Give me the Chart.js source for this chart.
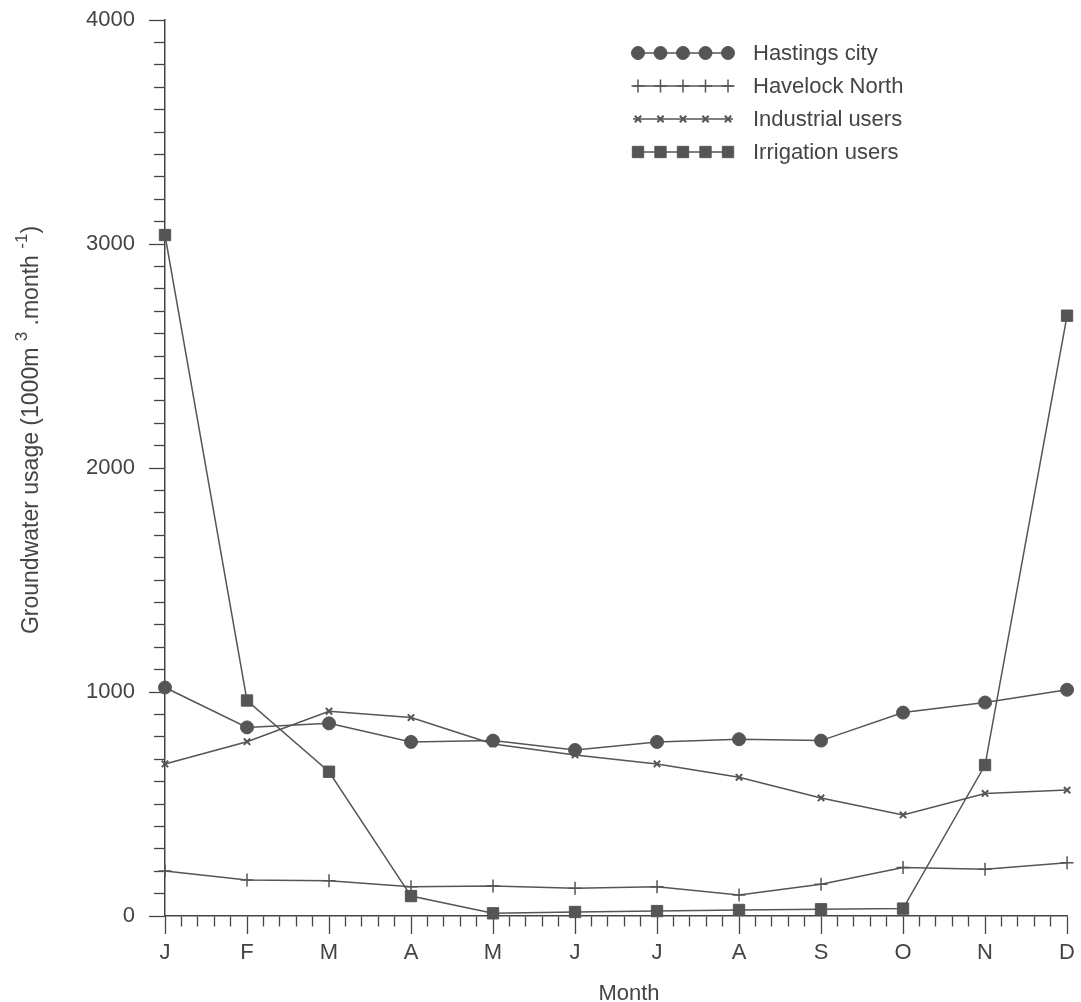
<!DOCTYPE html>
<html>
<head>
<meta charset="utf-8">
<script src="https://cdn.jsdelivr.net/npm/chart.js@4.4.1/dist/chart.umd.min.js"></script>
<style>
  html, body { margin: 0; padding: 0; background: #fff; }
</style>
</head>
<body>
<canvas id="usageChart" width="1081" height="1002"></canvas>
<script>
// monthly groundwater usage, 1000 m3 per month
const months = ['J', 'F', 'M', 'A', 'M', 'J', 'J', 'A', 'S', 'O', 'N', 'D'];
const hastings = [1020, 842, 860, 777, 783, 741, 777, 789, 783, 908, 953, 1010];
const havelock = [201, 161, 157, 131, 134, 124, 131, 94, 142, 216, 209, 238];
const industrial = [679, 778, 914, 886, 768, 719, 679, 619, 527, 451, 547, 562];
const irrigation = [3040, 962, 644, 89, 12, 18, 22, 27, 30, 33, 674, 2680];
const yTickLabels = [0, 1000, 2000, 3000, 4000];

const ink = '#555';
const axisInk = '#444';
const fontFamily = '"Liberation Sans", Arial, Helvetica, sans-serif';

function toPoints(values) {
    return values.map((v, i) => ({ x: i, y: v }));
}

function makeSet(label, values, style, radius, bw) {
    return {
        label: label,
        data: toPoints(values),
        borderColor: ink,
        backgroundColor: ink,
        borderWidth: 1.5,
        pointStyle: style,
        pointRadius: radius,
        pointBorderWidth: bw,
        pointBackgroundColor: ink,
        pointBorderColor: ink,
        tension: 0,
        clip: false
    };
}

// titles and the legend (5 markers per line, like the original)
const extras = {
    id: 'extras',
    afterDraw(chart) {
        const ctx = chart.ctx;
        const area = chart.chartArea;
        ctx.save();
        ctx.fillStyle = axisInk;

        // x title
        ctx.font = '22px ' + fontFamily;
        ctx.textAlign = 'center';
        ctx.textBaseline = 'alphabetic';
        ctx.fillText('Month', (area.left + area.right) / 2 + 13, 1000);

        // y title with superscripts
        const parts = [['Groundwater usage (1000m ', false], ['3', true], [' .month ', false], ['-1', true], [')', false]];
        const mainFont = '23px ' + fontFamily;
        const supFont = '17px ' + fontFamily;
        let total = 0;
        parts.forEach(p => {
            ctx.font = p[1] ? supFont : mainFont;
            total += ctx.measureText(p[0]).width;
        });
        ctx.translate(38, 430);
        ctx.rotate(-Math.PI / 2);
        ctx.textAlign = 'left';
        let x = -total / 2;
        parts.forEach(p => {
            ctx.font = p[1] ? supFont : mainFont;
            ctx.fillText(p[0], x, p[1] ? -11 : 0);
            x += ctx.measureText(p[0]).width;
        });
        ctx.setTransform(1, 0, 0, 1, 0, 0);

        // legend
        const lx0 = 633, lx1 = 733, tx = 753;
        chart.data.datasets.forEach((ds, i) => {
            const y = 53 + i * 33;
            ctx.strokeStyle = ds.borderColor;
            ctx.lineWidth = ds.borderWidth;
            ctx.beginPath();
            ctx.moveTo(lx0, y);
            ctx.lineTo(lx1, y);
            ctx.stroke();
            ctx.fillStyle = ds.pointBackgroundColor;
            ctx.strokeStyle = ds.pointBorderColor;
            ctx.lineWidth = ds.pointBorderWidth;
            for (let k = 0; k < 5; k++) {
                Chart.helpers.drawPoint(ctx, {
                    pointStyle: ds.pointStyle,
                    radius: ds.pointRadius,
                    rotation: 0,
                    borderWidth: ds.pointBorderWidth
                }, 638 + k * 22.5, y);
            }
            ctx.fillStyle = axisInk;
            ctx.font = '22px ' + fontFamily;
            ctx.textAlign = 'left';
            ctx.textBaseline = 'middle';
            ctx.fillText(ds.label, tx, y + 1);
        });
        ctx.restore();
    }
};

const ctx = document.getElementById('usageChart').getContext('2d');
new Chart(ctx, {
    type: 'line',
    data: {
        datasets: [
            makeSet('Hastings city', hastings, 'circle', 6.5, 1),
            makeSet('Havelock North', havelock, 'cross', 6.5, 1.5),
            makeSet('Industrial users', industrial, 'crossRot', 4.5, 2),
            makeSet('Irrigation users', irrigation, 'rect', 8, 1)
        ]
    },
    options: {
        responsive: false,
        animation: false,
        layout: { padding: { top: 20, right: 11, left: 0, bottom: 0 } },
        plugins: { legend: { display: false }, tooltip: { enabled: false } },
        scales: {
            x: {
                type: 'linear',
                min: 0,
                max: months.length - 1,
                afterFit: scale => { scale.height = 86; },
                border: { color: axisInk, width: 1.5 },
                grid: {
                    drawOnChartArea: false,
                    tickLength: 18,
                    tickColor: axisInk,
                    tickWidth: 1.3,
                    tickBorderDash: c => Number.isInteger(Math.round(c.tick.value * 1000) / 1000) ? [] : [10, 100]
                },
                ticks: {
                    stepSize: 0.2,
                    autoSkip: false,
                    maxRotation: 0,
                    padding: 6,
                    color: axisInk,
                    font: { family: fontFamily, size: 22 },
                    callback: v => {
                        const r = Math.round(v);
                        return Math.abs(v - r) < 1e-6 ? months[r] : '';
                    }
                }
            },
            y: {
                min: 0,
                max: 4000,
                afterFit: scale => { scale.width = 165; scale.paddingTop = 0; },
                border: { color: axisInk, width: 1.5 },
                grid: {
                    drawOnChartArea: false,
                    tickLength: 16,
                    tickColor: axisInk,
                    tickWidth: 1.3,
                    tickBorderDash: c => yTickLabels.includes(c.tick.value) ? [] : [11, 5],
                    tickBorderDashOffset: c => yTickLabels.includes(c.tick.value) ? 0 : 11
                },
                ticks: {
                    stepSize: 100,
                    autoSkip: false,
                    padding: 14,
                    color: axisInk,
                    font: { family: fontFamily, size: 22 },
                    callback: v => yTickLabels.includes(v) ? String(v) : ''
                }
            }
        }
    },
    plugins: [extras]
});
</script>
</body>
</html>
